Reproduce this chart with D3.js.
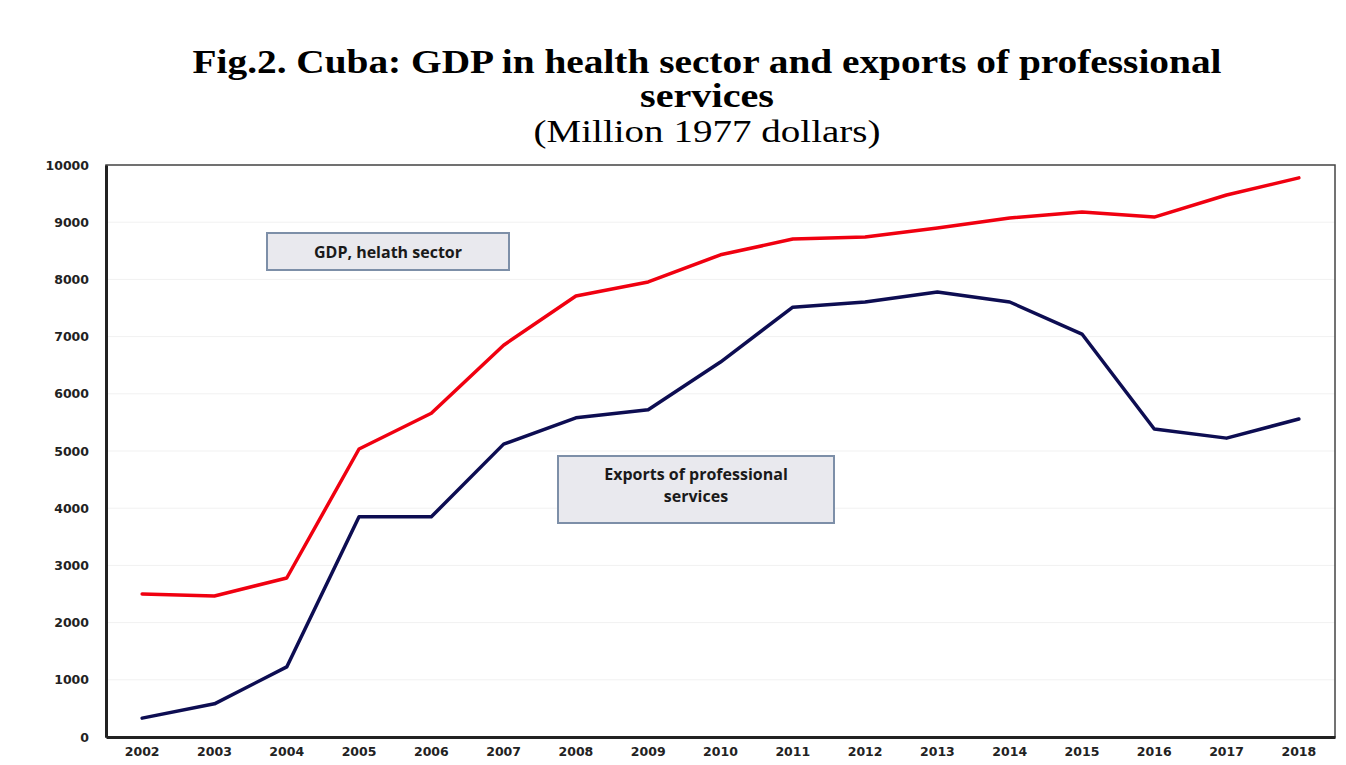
<!DOCTYPE html>
<html>
<head>
<meta charset="utf-8">
<script src="https://cdn.jsdelivr.net/npm/d3@7"></script>
<style>
  body { margin: 0; background: #fff; }
  svg { display: block; }
</style>
</head>
<body>
<svg id="chart"></svg>
<script>
// values
var years = ["2002","2003","2004","2005","2006","2007","2008","2009","2010","2011","2012","2013","2014","2015","2016","2017","2018"]
var gdpHealth = [2500,2465,2780,5035,5660,6850,7710,7955,8430,8705,8740,8900,9075,9180,9090,9475,9775]
var exportsProf = [330,580,1225,3850,3850,5120,5580,5720,6555,7515,7605,7780,7605,7045,5385,5225,5560]
var yTicks = [0,1000,2000,3000,4000,5000,6000,7000,8000,9000,10000]

var width = 1346
var height = 765
var margin = {top: 165, right: 11, bottom: 28, left: 106}

const svg = d3.select("#chart")
    .attr("width", width)
    .attr("height", height)

// title
const title = svg.append("g")
    .attr("font-family", "'Liberation Serif', 'Times New Roman', serif")
    .attr("text-anchor", "middle")
    .attr("fill", "#000")

title.append("text")
    .attr("x", 707).attr("y", 73)
    .attr("font-size", 33).attr("font-weight", "bold")
    .attr("textLength", 1029).attr("lengthAdjust", "spacingAndGlyphs")
    .text("Fig.2. Cuba: GDP in health sector and exports of professional")
title.append("text")
    .attr("x", 707).attr("y", 107)
    .attr("font-size", 33).attr("font-weight", "bold")
    .attr("textLength", 134).attr("lengthAdjust", "spacingAndGlyphs")
    .text("services")
title.append("text")
    .attr("x", 707).attr("y", 142)
    .attr("font-size", 32)
    .attr("textLength", 347).attr("lengthAdjust", "spacingAndGlyphs")
    .text("(Million 1977 dollars)")

let x = d3.scaleBand()
    .domain(years)
    .range([margin.left, width - margin.right])

let y = d3.scaleLinear()
    .domain([0, 10000])
    .range([height - margin.bottom, margin.top])

// faint gridlines
svg.append("g")
    .selectAll("line")
    .data(yTicks.slice(1))
    .enter()
    .append("line")
    .attr("x1", margin.left).attr("x2", width - margin.right)
    .attr("y1", d => y(d)).attr("y2", d => y(d))
    .attr("stroke", "#f1f1f1")
    .attr("stroke-width", 1)

// plot border (top & right thinner)
svg.append("rect")
    .attr("x", margin.left).attr("y", margin.top)
    .attr("width", width - margin.right - margin.left)
    .attr("height", height - margin.bottom - margin.top)
    .attr("fill", "none")
    .attr("stroke", "#444")
    .attr("stroke-width", 1.5)

// y axis
const yAxis = svg.append("g")
    .attr("transform", `translate(${margin.left},0)`)
    .call(d3.axisLeft(y).tickValues(yTicks).tickSize(0).tickPadding(17).tickFormat(d3.format("d")))
yAxis.select(".domain").attr("stroke", "#222").attr("stroke-width", 3)

// x axis
const xAxis = svg.append("g")
    .attr("transform", `translate(0,${height - margin.bottom})`)
    .call(d3.axisBottom(x).tickSize(0).tickPadding(10))
xAxis.select(".domain").attr("stroke", "#222").attr("stroke-width", 3)

svg.selectAll(".tick text")
    .attr("font-family", "'DejaVu Sans', Verdana, sans-serif")
    .attr("font-weight", "bold")
    .attr("font-size", 12.5)
    .attr("fill", "#222")

let cx = d => x(d) + x.bandwidth() / 2

let line = d3.line()
    .x((d, i) => cx(years[i]))
    .y(d => y(d))

svg.append("path")
    .datum(gdpHealth)
    .attr("d", line)
    .attr("fill", "none")
    .attr("stroke", "#f00010")
    .attr("stroke-width", 3.5)
    .attr("stroke-linejoin", "round")
    .attr("stroke-linecap", "round")

svg.append("path")
    .datum(exportsProf)
    .attr("d", line)
    .attr("fill", "none")
    .attr("stroke", "#0d0d52")
    .attr("stroke-width", 3.5)
    .attr("stroke-linejoin", "round")
    .attr("stroke-linecap", "round")

// label boxes
function labelBox(bx, by, bw, bh, lines, ty){
    const g = svg.append("g")
    g.append("rect")
        .attr("x", bx).attr("y", by)
        .attr("width", bw).attr("height", bh)
        .attr("fill", "#e9e9ee")
        .attr("stroke", "#7d8fa8")
        .attr("stroke-width", 2)
    g.selectAll("text")
        .data(lines)
        .enter()
        .append("text")
        .attr("x", bx + bw / 2)
        .attr("y", (d, i) => ty + i * 22)
        .attr("text-anchor", "middle")
        .attr("font-family", "'Open Sans', 'Liberation Sans', sans-serif")
        .attr("font-weight", "bold")
        .attr("font-size", 16)
        .attr("fill", "#1a1a1a")
        .text(d => d)
}

labelBox(267, 233, 242, 37, ["GDP, helath sector"], 258)
labelBox(558, 456, 276, 67, ["Exports of professional", "services"], 480)
</script>
</body>
</html>
